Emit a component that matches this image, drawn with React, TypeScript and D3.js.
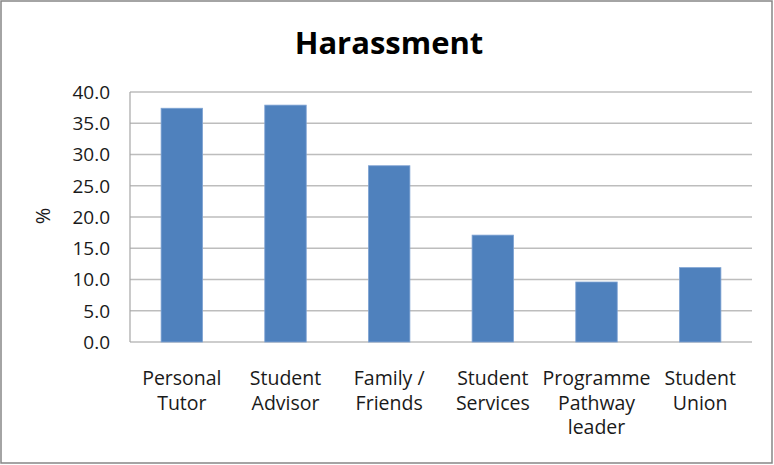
import React, { useEffect, useRef } from "react";
import * as d3 from "d3";

const categories: string[][] = [
  ["Personal", "Tutor"],
  ["Student", "Advisor"],
  ["Family /", "Friends"],
  ["Student", "Services"],
  ["Programme", "Pathway", "leader"],
  ["Student", "Union"],
];
const values: number[] = [37.4, 37.9, 28.2, 17.1, 9.6, 11.9];
const yTicks: number[] = [0, 5, 10, 15, 20, 25, 30, 35, 40];
const title = "Harassment";
const yLabel = "%";

const W = 774;
const H = 465;
const FONT = "'Open Sans', 'Liberation Sans', sans-serif";

export default function App() {
  const ref = useRef<SVGSVGElement>(null);
  useEffect(() => {
    const svg = d3.select(ref.current);
    svg.selectAll("*").remove();
    const m = { left: 130, right: 752, top: 92, bottom: 342 };
    const x = d3
      .scaleBand<number>()
      .domain(values.map((_, i) => i))
      .range([m.left, m.right])
      .paddingInner(0.6)
      .paddingOuter(0.3);
    const y = d3.scaleLinear().domain([0, 40]).range([m.bottom, m.top]);

    svg.append("rect").attr("x", 1).attr("y", 1).attr("width", W - 3).attr("height", H - 3)
      .attr("fill", "white").attr("stroke", "#868686").attr("stroke-width", 1.5);

    svg.append("text").attr("x", 389).attr("y", 54).attr("text-anchor", "middle")
      .attr("font-family", FONT).attr("font-weight", "bold").attr("font-size", 31)
      .attr("fill", "#000").text(title);

    // gridlines
    svg.append("g").selectAll("line").data(yTicks).join("line")
      .attr("x1", m.left).attr("x2", m.right)
      .attr("y1", (d) => y(d)).attr("y2", (d) => y(d))
      .attr("stroke", "#BDBDBD").attr("stroke-width", 1.5);
    svg.append("line").attr("x1", m.left).attr("x2", m.left).attr("y1", m.top).attr("y2", m.bottom)
      .attr("stroke", "#A6A6A6").attr("stroke-width", 1.2);

    // tick labels
    svg.append("g").selectAll("text").data(yTicks).join("text")
      .attr("x", 110).attr("y", (d) => y(d)).attr("dy", "0.36em").attr("text-anchor", "end")
      .attr("font-family", FONT).attr("font-size", 19).attr("fill", "#1a1a1a")
      .text((d) => d.toFixed(1));

    // y label
    svg.append("text").attr("transform", "translate(50,216) rotate(-90)").attr("text-anchor", "middle")
      .attr("font-family", FONT).attr("font-size", 20).attr("fill", "#1a1a1a").text(yLabel);

    // bars
    svg.append("g").selectAll("rect").data(values).join("rect")
      .attr("x", (_, i) => x(i)!).attr("width", x.bandwidth())
      .attr("y", (d) => y(d)).attr("height", (d) => m.bottom - y(d))
      .attr("fill", "#4F81BD").attr("stroke", "#7FA3D3").attr("stroke-width", 0.8);

    // x labels
    const g = svg.append("g");
    categories.forEach((lines, i) => {
      const cx = x(i)! + x.bandwidth() / 2;
      const t = g.append("text")
        .attr("transform", `translate(${cx},385)`)
        .attr("text-anchor", "middle")
        .attr("font-family", FONT).attr("font-size", 19.5).attr("fill", "#1a1a1a");
      lines.forEach((ln, j) => {
        t.append("tspan").attr("x", 0).attr("dy", j === 0 ? 0 : 24.5).text(ln);
      });
    });
  }, []);
  return (
    <svg ref={ref} width={W} height={H}
      style={{ position: "absolute", left: 0, top: 0, background: "white" }} />
  );
}
